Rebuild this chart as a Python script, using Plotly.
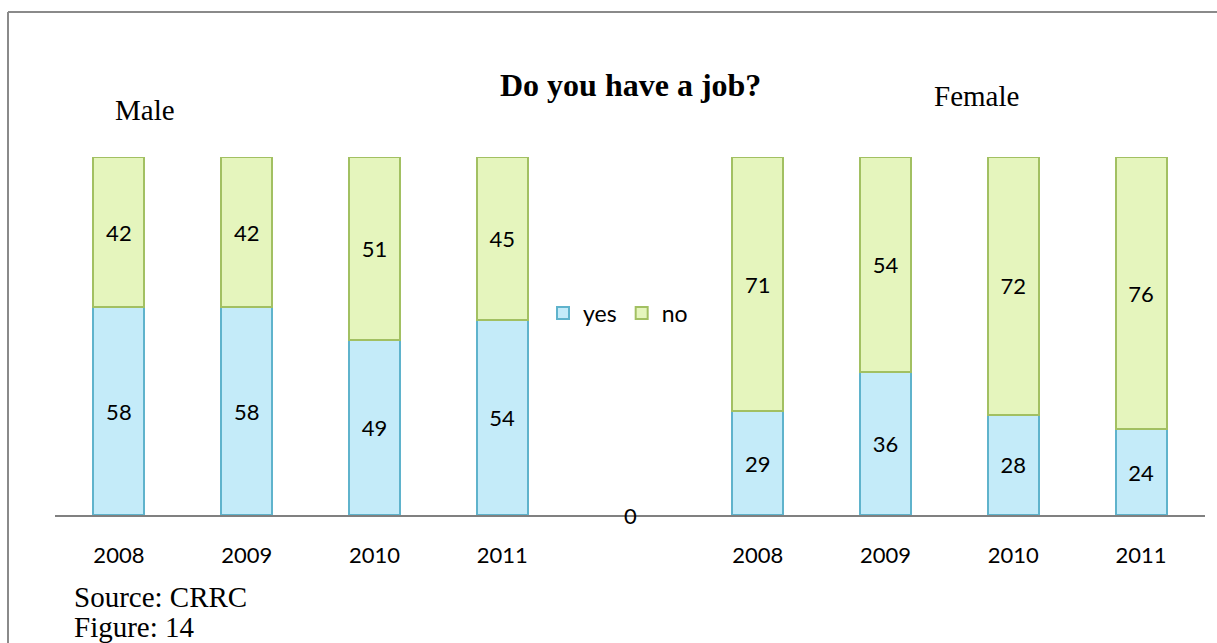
import plotly.graph_objects as go

years = ["2008", "2009", "2010", "2011"]
male_yes = [58, 58, 49, 54]
male_no = [42, 42, 51, 45]
female_yes = [29, 36, 28, 24]
female_no = [71, 54, 72, 76]
groups = ["Male", "Female"]
title = "Do you have a job?"

# 9 category slots: 4 male, one empty gap, 4 female
x_male = list(range(4))
x_female = [i + 5 for i in range(4)]
xpos = x_male + x_female
yes_vals = male_yes + female_yes
no_vals = male_no + female_no
ticktext = years + years

W, H = 1217, 643
L, R, T, B = 55, 12, 157, 128
pw, ph = W - L - R, H - T - B

def px_x(p):
    return (p - L) / pw

def px_y(p):
    return (H - B - p) / ph

sans = "Lato, Carlito, Calibri, sans-serif"
label_font = dict(family=sans, size=22, color="black")
serif = "Liberation Serif, Times New Roman, serif"

fig = go.Figure()
fig.add_bar(x=xpos, y=yes_vals, name="yes", text=yes_vals,
            textposition="inside", insidetextanchor="middle",
            textfont=label_font, textangle=0,
            marker=dict(color="#c4ebf9", line=dict(color="#5fb3cc", width=2)))
fig.add_bar(x=xpos, y=no_vals, name="no", text=no_vals,
            textposition="inside", insidetextanchor="middle",
            textfont=label_font, textangle=0,
            marker=dict(color="#e5f5bd", line=dict(color="#a2c062", width=2)))

fig.update_layout(
    width=W, height=H,
    barmode="stack", barnorm="percent", bargap=0.6,
    plot_bgcolor="white", paper_bgcolor="white",
    margin=dict(l=L, r=R, t=T, b=B),
    showlegend=True,
    legend=dict(orientation="h", x=px_x(618), y=px_y(313), xanchor="center", yanchor="middle",
                font=dict(family=sans, size=23, color="black"), traceorder="normal",
                bgcolor="rgba(0,0,0,0)", itemwidth=30, tracegroupgap=0),
    uniformtext=dict(mode=False),
)
fig.update_xaxes(range=[-0.5, 8.5], tickmode="array", tickvals=xpos, ticktext=ticktext,
                 showgrid=False, zeroline=False, showline=True, linecolor="#808080", linewidth=2,
                 ticks="", ticklabelstandoff=20,
                 tickfont=dict(family=sans, size=22, color="black"))
fig.update_yaxes(range=[0, 100], visible=False, showgrid=False, zeroline=False)

anns = [
    dict(text="<b>" + title + "</b>", x=px_x(630), y=px_y(85), font=dict(family=serif, size=32, color="black")),
    dict(text=groups[0], x=px_x(145), y=px_y(110), font=dict(family=serif, size=29, color="black")),
    dict(text=groups[1], x=px_x(976), y=px_y(96), font=dict(family=serif, size=29, color="black")),
    dict(text="Source: CRRC", x=px_x(72), y=px_y(597), xanchor="left", font=dict(family=serif, size=29, color="black")),
    dict(text="Figure: 14", x=px_x(72), y=px_y(627), xanchor="left", font=dict(family=serif, size=29, color="black")),
]
for a in anns:
    a.setdefault("xanchor", "center")
    fig.add_annotation(xref="paper", yref="paper", yanchor="middle", showarrow=False, **a)

# the empty middle slot's data label "0"
fig.add_annotation(x=4, y=0, xref="x", yref="y", text="0", showarrow=False,
                   yanchor="middle", font=label_font)

# outer frame (left and top edges)
fig.add_shape(type="line", xref="paper", yref="paper", x0=px_x(8), x1=px_x(8), y0=px_y(H + 5), y1=px_y(12),
              line=dict(color="#8a8a8a", width=2))
fig.add_shape(type="line", xref="paper", yref="paper", x0=px_x(8), x1=px_x(W + 5), y0=px_y(12), y1=px_y(12),
              line=dict(color="#8a8a8a", width=2))

fig.write_html("out.html", config={"displayModeBar": False},
               post_script="document.body.style.margin='0';document.body.style.overflow='hidden';")
